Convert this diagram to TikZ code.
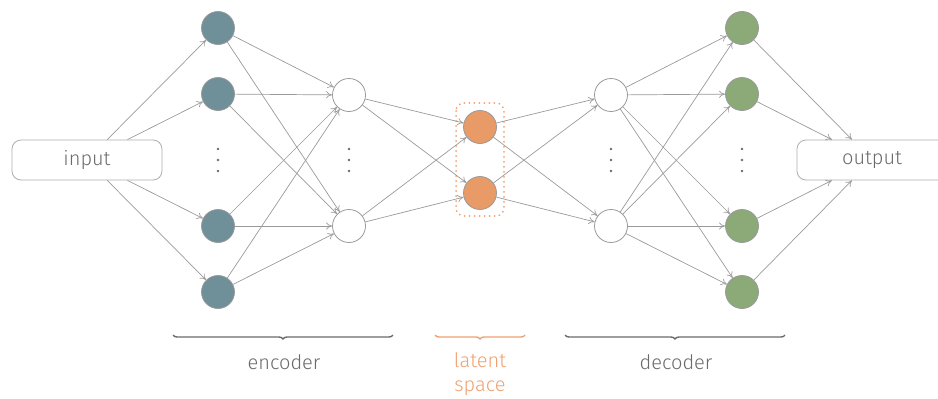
\documentclass[tikz,border=0pt]{standalone}
\usepackage{fontspec}
\setmainfont{Fira Sans Light}
\usetikzlibrary{arrows.meta,decorations.pathreplacing}
\definecolor{edgegray}{HTML}{9A9A9A}
\definecolor{textgray}{HTML}{6A6A6A}
\definecolor{encfill}{HTML}{6F8F99}
\definecolor{latfill}{HTML}{E99B67}
\definecolor{decfill}{HTML}{8BAA77}
\definecolor{latline}{HTML}{F0A070}
\tikzset{
  neuron/.style={circle,minimum size=33pt,inner sep=0pt,draw=edgegray,line width=0.8pt},
  encneuron/.style={neuron,fill=encfill},
  hidneuron/.style={neuron,fill=white},
  latneuron/.style={neuron,fill=latfill},
  decneuron/.style={neuron,fill=decfill},
  iobox/.style={draw=edgegray!80,rounded corners=9pt,minimum width=150pt,minimum height=40pt,
    inner sep=0pt,text=textgray,font=\fontsize{20}{24}\selectfont,line width=0.8pt},
  ellipsisdots/.style={circle,minimum size=12pt,inner sep=0pt,
    path picture={\foreach \dy in {-11,0,11}
      \fill[textgray] ([yshift=\dy pt]path picture bounding box.center) circle (1.4pt);}},
  link/.style={draw=edgegray,line width=0.7pt,-{To[length=6pt,width=7pt]}},
  bracegroup/.style={decorate,decoration={brace,mirror,amplitude=4pt},line width=1.4pt},
  bracelabel/.style={font=\fontsize{20}{24}\selectfont,align=center}
}
\begin{document}
\begin{tikzpicture}[x=1pt,y=-1pt]
\useasboundingbox (0,0) rectangle (938,399);
\clip (0,0) rectangle (938,399);

% input and output
\node[iobox] (in) at (87,160) {input};
\node[iobox] (out) at (872,160) {output};

% encoder first layer
\node[encneuron] (e1) at (218,28) {};
\node[encneuron] (e2) at (218,94) {};
\node[ellipsisdots,minimum height=26pt] (e3) at (218,160) {};
\node[encneuron] (e4) at (218,226) {};
\node[encneuron] (e5) at (218,292) {};

% encoder second layer
\node[hidneuron] (h1) at (349,95) {};
\node[ellipsisdots,minimum height=26pt] (hd) at (349,160) {};
\node[hidneuron] (h2) at (349,226) {};

% latent space
\node[latneuron] (z1) at (480,127) {};
\node[latneuron] (z2) at (480,193) {};
\draw[latline,line width=2pt,dash pattern=on 0pt off 5pt,line cap=round,rounded corners=8pt]
  (456,103) rectangle (504,216);

% decoder first layer
\node[hidneuron] (g1) at (611,95) {};
\node[ellipsisdots,minimum height=26pt] (gd) at (611,160) {};
\node[hidneuron] (g2) at (611,226) {};

% decoder output layer
\node[decneuron] (d1) at (742,28) {};
\node[decneuron] (d2) at (742,94) {};
\node[ellipsisdots,minimum height=26pt] (d3) at (742,160) {};
\node[decneuron] (d4) at (742,226) {};
\node[decneuron] (d5) at (742,292) {};

% connections
\foreach \b in {e1,e2,e4,e5} \draw[link] (in) -- (\b);
\foreach \a in {e1,e2,e4,e5} \foreach \b in {h1,h2} \draw[link] (\a) -- (\b);
\foreach \a in {h1,h2} \foreach \b in {z1,z2} \draw[link] (\a) -- (\b);
\foreach \a in {z1,z2} \foreach \b in {g1,g2} \draw[link] (\a) -- (\b);
\foreach \a in {g1,g2} \foreach \b in {d1,d2,d4,d5} \draw[link] (\a) -- (\b);
\foreach \a in {d1,d2,d4,d5} \draw[link] (\a) -- (out);

% group braces
\coordinate (encL) at (173,335);
\coordinate (encR) at (393,335);
\coordinate (latL) at (435,335);
\coordinate (latR) at (525,335);
\coordinate (decL) at (565,335);
\coordinate (decR) at (785,335);
\draw[bracegroup,draw=textgray] (encL) -- (encR);
\draw[bracegroup,draw=latline] (latL) -- (latR);
\draw[bracegroup,draw=textgray] (decL) -- (decR);
\node[bracelabel,text=textgray] (enclab) at (284,362) {encoder};
\node[bracelabel,text=latline,anchor=north] (latlab) at (480,349) {latent\\space};
\node[bracelabel,text=textgray] (declab) at (676,362) {decoder};
\end{tikzpicture}
\end{document}
